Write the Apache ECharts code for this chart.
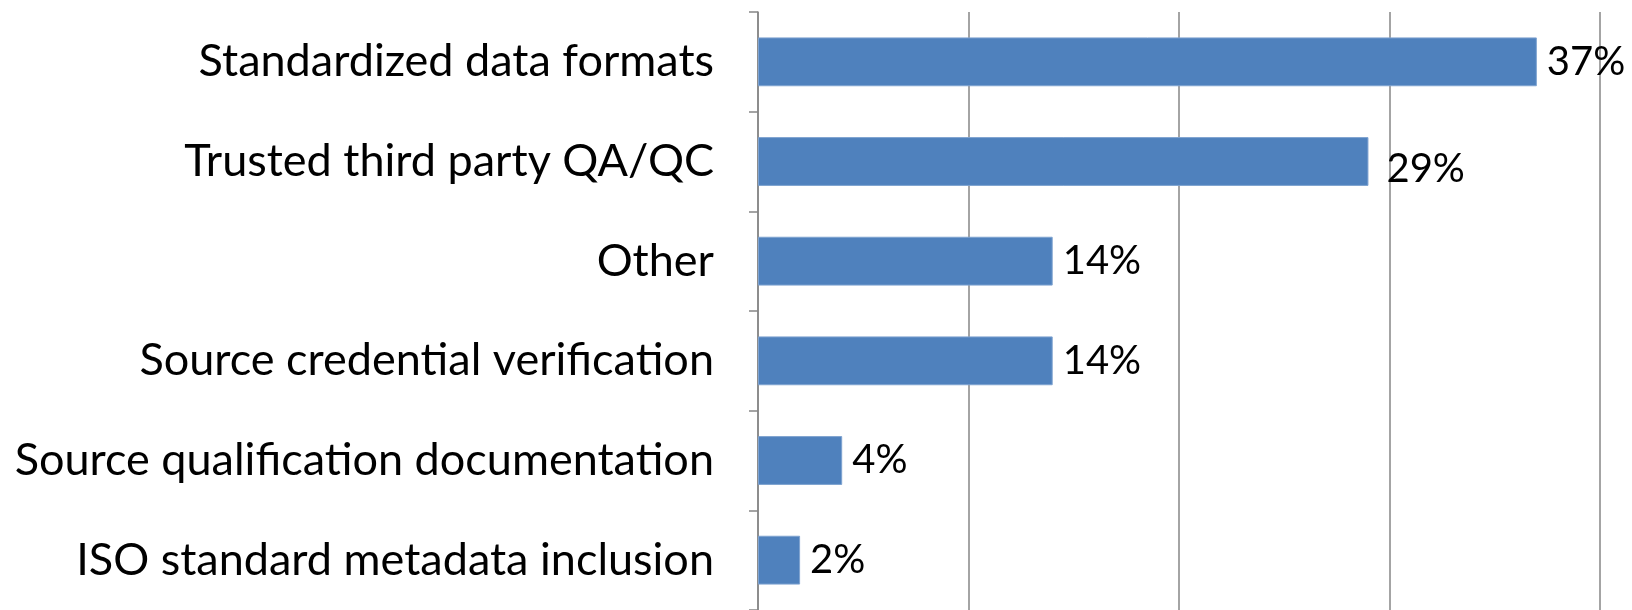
<!DOCTYPE html>
<html>
<head>
<meta charset="utf-8">
<script src="https://cdn.jsdelivr.net/npm/echarts@6/dist/echarts.min.js"></script>
<style>
  html, body { margin: 0; padding: 0; background: #fff; }
  #chart { width: 1632px; height: 610px; }
</style>
</head>
<body>
<div id="chart"></div>
<script>
// categories, top to bottom
var categories = [
    'Standardized data formats',
    'Trusted third party QA/QC',
    'Other',
    'Source credential verification',
    'Source qualification documentation',
    'ISO standard metadata inclusion'
];
// percent of respondents
var values = [37, 29, 14, 14, 4, 2];
// x axis range (no tick labels shown)
var xMin = 0;
var xMax = 40;
var xStep = 10;

var gray = '#868686';
var fontName = 'Lato';

var chart = echarts.init(document.getElementById('chart'));

var option = {
    animation: false,
    grid: {
        left: 758,
        right: 32,
        top: 12,
        bottom: 0
    },
    xAxis: {
        type: 'value',
        min: xMin,
        max: xMax,
        interval: xStep,
        axisLine: { show: false },
        axisTick: { show: false },
        axisLabel: { show: false },
        splitLine: { lineStyle: { color: gray, width: 1.5 } }
    },
    yAxis: {
        type: 'category',
        inverse: true,
        data: categories,
        axisLine: { lineStyle: { color: gray, width: 1.5 } },
        axisTick: { show: true, length: 9, lineStyle: { color: gray, width: 1.5 } },
        axisLabel: {
            margin: 44,
            color: '#000',
            fontFamily: fontName,
            fontSize: 45
        }
    },
    series: [{
        type: 'bar',
        data: values.map(function (v, i) {
            // the 29% label sits a bit off the bar in the original
            if (i === 1) {
                return { value: v, label: { offset: [8, 8] } };
            }
            return v;
        }),
        barWidth: '49%',
        itemStyle: {
            color: '#4F81BD',
            borderColor: '#7FA3D0',
            borderWidth: 1
        },
        label: {
            show: true,
            position: 'right',
            distance: 10,
            formatter: '{c}%',
            color: '#000',
            fontFamily: fontName,
            fontSize: 40
        }
    }]
};

chart.setOption(option);
</script>
</body>
</html>
